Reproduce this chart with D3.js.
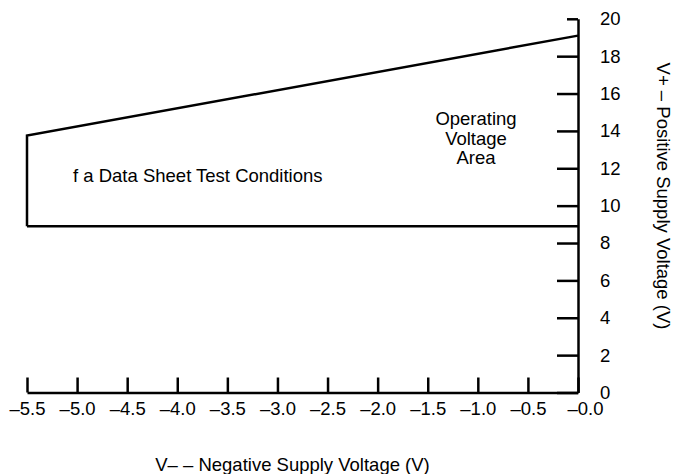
<!DOCTYPE html>
<html lang="en">
<head>
    <meta charset="UTF-8">
    <title>Operating Voltage Area</title>
    <script src="https://d3js.org/d3.v7.min.js"></script>
    <style>
        body { margin: 0; background: #fff; }
        text { font-family: "Liberation Sans", Arial, sans-serif; font-size: 18.5px; fill: #000; }
    </style>
</head>
<body>
    <svg id="chart" width="675" height="474"></svg>
    <script>
        // x axis: negative supply voltage (V-)
        const xTicks = [-5.5, -5.0, -4.5, -4.0, -3.5, -3.0, -2.5, -2.0, -1.5, -1.0, -0.5, 0];
        const xTickLabels = ["–5.5", "–5.0", "–4.5", "–4.0", "–3.5", "–3.0", "–2.5", "–2.0", "–1.5", "–1.0", "–0.5", "–0.0"];
        // y axis: positive supply voltage (V+)
        const yTicks = [0, 2, 4, 6, 8, 10, 12, 14, 16, 18, 20];

        // operating area boundary
        const upperVminus = [-5.5, -5.5, 0];
        const upperVplus = [8.9, 13.75, 19.1];
        const lowerVminus = [-5.5, 0];
        const lowerVplus = [8.9, 8.9];

        let svg = d3.select("#chart");

        let x = d3.scaleLinear().domain([-5.5, 0]).range([27, 578]);
        let y = d3.scaleLinear().domain([0, 20]).range([392.5, 18.8]);

        // bottom axis, ticks pointing up
        let xAxis = svg.append("g")
            .attr("transform", `translate(0,${y(0)})`)
            .call(d3.axisBottom(x)
                .tickValues(xTicks)
                .tickFormat((d, i) => xTickLabels[i])
                .tickSizeInner(-15)
                .tickSizeOuter(0)
                .tickPadding(9));

        // last label sits a little right of the corner
        xAxis.selectAll(".tick text").filter(d => d === 0).attr("dx", 7);

        // right axis, ticks pointing left
        let yAxis = svg.append("g")
            .attr("transform", `translate(${x(0)},0)`)
            .call(d3.axisRight(y)
                .tickValues(yTicks)
                .tickSizeInner(-21)
                .tickSizeOuter(0)
                .tickPadding(22));

        yAxis.selectAll(".tick line").filter(d => d === 20).attr("x2", -11);

        [xAxis, yAxis].forEach(g => {
            g.select(".domain").attr("stroke-width", 2.5);
            g.selectAll(".tick line").attr("stroke-width", 2.5);
            g.selectAll("text")
                .style("font-family", '"Liberation Sans", Arial, sans-serif')
                .style("font-size", "18.5px");
        });

        // boundary lines
        let line = d3.line().x(d => x(d[0])).y(d => y(d[1]));

        svg.append("path")
            .datum(upperVminus.map((v, i) => [v, upperVplus[i]]))
            .attr("d", line)
            .attr("fill", "none")
            .attr("stroke", "#000")
            .attr("stroke-width", 2.5);

        svg.append("path")
            .datum(lowerVminus.map((v, i) => [v, lowerVplus[i]]))
            .attr("d", line)
            .attr("fill", "none")
            .attr("stroke", "#000")
            .attr("stroke-width", 2.5);

        // annotations
        svg.append("text")
            .attr("x", 73)
            .attr("y", 181.5)
            .text("f a Data Sheet Test Conditions");

        let area = svg.append("text")
            .attr("x", 476)
            .attr("y", 125)
            .attr("text-anchor", "middle");
        ["Operating", "Voltage", "Area"].forEach((t, i) => {
            area.append("tspan")
                .attr("x", 476)
                .attr("dy", i === 0 ? 0 : 19.5)
                .text(t);
        });

        // axis titles
        svg.append("text")
            .attr("x", 292.5)
            .attr("y", 471)
            .attr("text-anchor", "middle")
            .text("V– – Negative Supply Voltage (V)");

        svg.append("text")
            .attr("transform", "translate(657,196) rotate(90)")
            .attr("text-anchor", "middle")
            .text("V+ – Positive Supply Voltage (V)");
    </script>
</body>
</html>
